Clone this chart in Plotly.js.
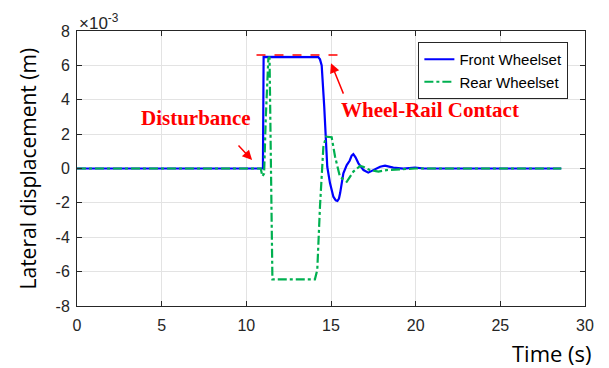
<!DOCTYPE html>
<html>
<head>
<meta charset="utf-8">
<script src="https://cdn.plot.ly/plotly-3.0.1.min.js"></script>
<style>html,body{margin:0;padding:0;background:#fff}#chart{width:609px;height:368px}</style>
</head>
<body>
<div id="chart"></div>
<script>
// Time (s)
const frontTime = [0, 10.98, 11.02, 14.1, 14.25, 14.35, 14.45, 14.6, 14.71, 14.78, 14.94, 15.14, 15.28, 15.38, 15.47, 15.54, 15.73, 15.93, 16.1, 16.22, 16.32, 16.45, 16.62, 16.92, 17.2, 17.4, 17.6, 17.9, 18.19, 18.68, 19.27, 19.96, 20.5, 28.6];
// Lateral displacement (x 1e-3 m)
const frontDisp = [0, 0, 6.5, 6.5, 6.48, 6.35, 6.0, 3.6, 1.66, 0.1, -0.85, -1.64, -1.85, -1.89, -1.75, -1.43, -0.28, 0.2, 0.45, 0.75, 0.84, 0.65, 0.3, -0.09, -0.24, -0.15, -0.03, 0.1, 0.17, 0.05, -0.01, 0.05, 0, 0];

const rearTime = [0, 10.85, 10.95, 11.05, 11.15, 11.3, 11.37, 11.46, 11.54, 14.05, 14.19, 14.35, 14.55, 14.71, 15.04, 15.24, 15.53, 15.93, 16.32, 16.72, 16.9, 17.3, 17.8, 18.29, 19.1, 20, 28.6];
const rearDisp = [0, 0, -0.45, -0.3, 3.0, 6.4, 6.5, 0, -6.45, -6.45, -5.9, -2.2, 1.27, 1.85, 1.82, 0.69, -0.48, -0.77, -0.18, 0.15, 0.1, -0.09, -0.18, -0.09, -0.05, 0, 0];

const seriesNames = ["Front Wheelset", "Rear Wheelset"];
const xTicks = [0, 5, 10, 15, 20, 25, 30];
const yTicks = [-8, -6, -4, -2, 0, 2, 4, 6, 8];

// Wheel-rail contact limit line
const contactLineT = [10.6, 15.7];
const contactLineV = 6.6;

const axisColor = "#262626";
const gridColor = "#e3e3e3";
const tickFont = {family: "Liberation Sans, Arial, sans-serif", size: 16, color: axisColor};

const traces = [
  {x: frontTime, y: frontDisp, name: seriesNames[0], type: "scatter", mode: "lines",
   line: {color: "#0000ff", width: 2.2}},
  {x: rearTime, y: rearDisp, name: seriesNames[1], type: "scatter", mode: "lines",
   line: {color: "#00b050", width: 2.2, dash: "dashdot"}}
];

const commonAxis = {
  showline: true, linecolor: axisColor, linewidth: 1, mirror: "ticks",
  ticks: "inside", ticklen: 5, tickcolor: axisColor,
  showgrid: true, gridcolor: gridColor, gridwidth: 1,
  zeroline: false, tickfont: tickFont
};

const layout = {
  width: 609, height: 368,
  margin: {l: 77, r: 24, t: 31, b: 62},
  paper_bgcolor: "#fff", plot_bgcolor: "#fff",
  showlegend: true,
  legend: {x: 0.672, y: 0.96, xanchor: "left", yanchor: "top",
    bgcolor: "#fff", bordercolor: axisColor, borderwidth: 1,
    font: {family: "Liberation Sans, Arial, sans-serif", size: 15, color: "#000"},
    tracegroupgap: 0},
  xaxis: Object.assign({}, commonAxis, {range: [0, 30], tickvals: xTicks, ticktext: xTicks.map(String), ticklabelstandoff: 5}),
  yaxis: Object.assign({}, commonAxis, {range: [-8, 8], tickvals: yTicks, ticktext: yTicks.map(String), ticklabelstandoff: 3}),
  shapes: [
    {type: "line", xref: "x", yref: "y", x0: contactLineT[0], x1: contactLineT[1], y0: contactLineV, y1: contactLineV,
     line: {color: "#ff0000", width: 1.5, dash: "dash"}}
  ],
  annotations: [
    {xref: "paper", yref: "paper", x: 0, y: 1, xanchor: "left", yanchor: "bottom", yshift: -4,
     text: "×10<sup>-3</sup>", showarrow: false, font: {family: "Liberation Sans, Arial, sans-serif", size: 17, color: axisColor}},
    {xref: "paper", yref: "paper", x: 0, y: 0.5, xanchor: "center", yanchor: "middle", xshift: -50,
     text: "Lateral displacement (m)", textangle: -90, showarrow: false,
     font: {family: "Open Sans, sans-serif", size: 21, color: "#000"}},
    {xref: "paper", yref: "paper", x: 1, y: 0, xanchor: "right", yanchor: "top", yshift: -30, xshift: 9,
     text: "Time (s)", showarrow: false,
     font: {family: "Open Sans, sans-serif", size: 22, color: "#000"}},
    {xref: "x", yref: "y", x: 7.03, y: 2.94, text: "<b>Disturbance</b>", showarrow: false,
     font: {family: "Liberation Serif, Times New Roman, serif", size: 21, color: "#ff0000"}},
    {xref: "x", yref: "y", x: 10.34, y: 0.49, ax: -15, ay: -16, text: "", showarrow: true,
     arrowhead: 2, arrowsize: 1.3, arrowwidth: 1.5, arrowcolor: "#ff0000"},
    {xref: "x", yref: "y", x: 20.85, y: 3.4, text: "<b>Wheel-Rail Contact</b>", showarrow: false,
     font: {family: "Liberation Serif, Times New Roman, serif", size: 21, color: "#ff0000"}},
    {xref: "x", yref: "y", x: 15.0, y: 6.13, ax: 13, ay: 32, text: "", showarrow: true,
     arrowhead: 2, arrowsize: 1.3, arrowwidth: 1.5, arrowcolor: "#ff0000"}
  ]
};

Plotly.newPlot("chart", traces, layout, {displayModeBar: false, staticPlot: true});
</script>
</body>
</html>
